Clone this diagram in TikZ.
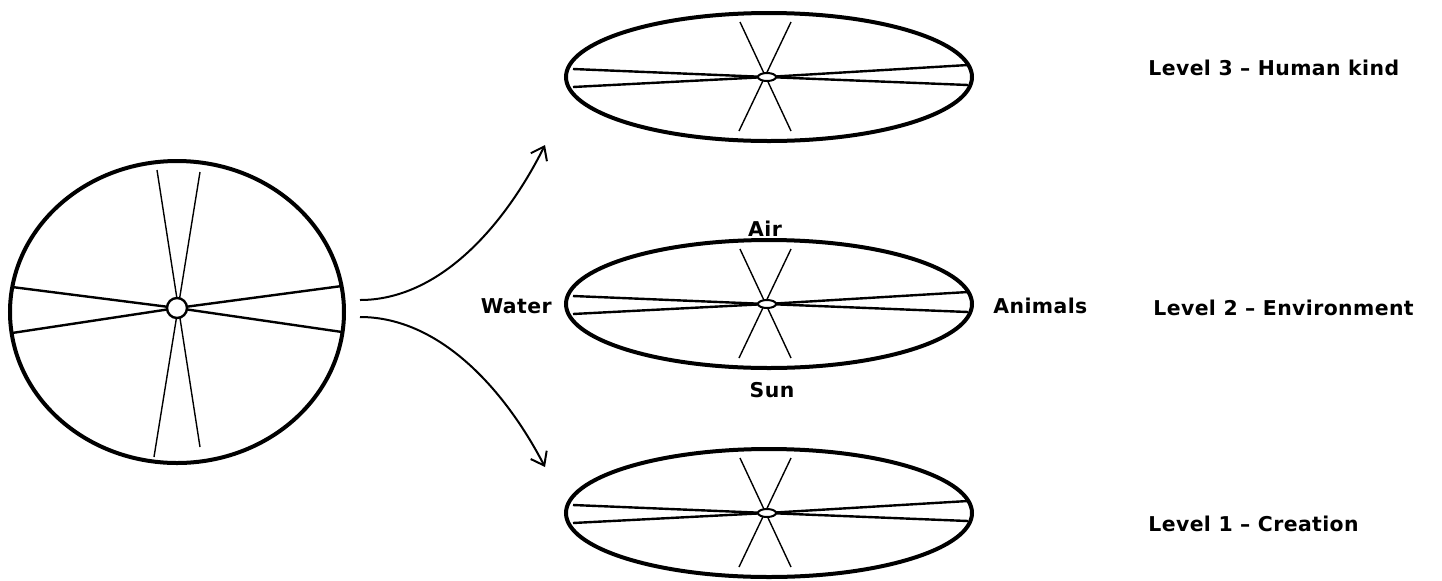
\documentclass[tikz,border=0pt]{standalone}
\usepackage{fontspec}
\setmainfont{DejaVu Sans}[LetterSpace=2]
\usetikzlibrary{arrows.meta,shapes.geometric,calc}

\begin{document}
\begin{tikzpicture}[
  x=0.5pt, y=-0.5pt,
  wheel/.style={ellipse, draw, line width=2pt, minimum width=203pt, minimum height=64pt, inner sep=0pt},
  globe/.style={ellipse, draw, line width=2pt, minimum width=167pt, minimum height=151pt, inner sep=0pt},
  hub/.style={ellipse, draw, fill=white, line width=1pt, minimum width=9pt, minimum height=4pt, inner sep=0pt},
  bighub/.style={circle, draw, fill=white, line width=1.2pt, minimum size=10pt, inner sep=0pt},
  spoke/.style={line width=1.2pt},
  thinspoke/.style={line width=0.7pt},
  label/.style={font=\bfseries\fontsize{10.2}{12}\selectfont, inner sep=0pt},
  flow/.style={line width=1pt, -{Straight Barb[length=6pt, width=9pt]}},
]
  \useasboundingbox (0,0) rectangle (1442,580);

  % the whole world, seen from above
  \node[globe] (world) at (177,312) {};
  \coordinate (wc) at (177,308);
  \draw[spoke] (wc) -- (12,287);
  \draw[spoke] (wc) -- (12,333);
  \draw[spoke] (wc) -- (342,286);
  \draw[spoke] (wc) -- (342,332);
  \draw[thinspoke] (157,170) -- (200,447);
  \draw[thinspoke] (200,172) -- (154,457);
  \node[bighub] (worldhub) at (wc) {};

  % the three levels
  \foreach \lvl/\y in {three/77, two/304, one/513} {
    \node[wheel] (\lvl) at (769,\y) {};
    \coordinate (\lvl c) at (767,\y);
    \draw[spoke] (\lvl c) -- ($(\lvl c)+(-194,-8)$);
    \draw[spoke] (\lvl c) -- ($(\lvl c)+(-194,10)$);
    \draw[spoke] (\lvl c) -- ($(\lvl c)+(201,-12)$);
    \draw[spoke] (\lvl c) -- ($(\lvl c)+(201,8)$);
    \draw[thinspoke] ($(\lvl c)+(-27,-55)$) -- ($(\lvl c)+(24,54)$);
    \draw[thinspoke] ($(\lvl c)+(24,-55)$) -- ($(\lvl c)+(-28,54)$);
    \node[hub] (\lvl hub) at (\lvl c) {};
  }

  % labels round level 2
  \node[label] (air) at (765,229) {Air};
  \node[label] (sun) at (772,390) {Sun};
  \node[label, anchor=east] (water) at (552,306) {Water};
  \node[label, anchor=west] (animals) at (993,306) {Animals};

  \node[label, anchor=west] (l3) at (1148,68) {Level 3 -- Human kind};
  \node[label, anchor=west] (l2) at (1153,308) {Level 2 -- Environment};
  \node[label, anchor=west] (l1) at (1148,524) {Level 1 -- Creation};

  % arrows from the world to the levels
  \coordinate (up0) at (360,300);
  \coordinate (up1) at (545,145);
  \coordinate (dn0) at (360,317);
  \coordinate (dn1) at (545,467);
  \draw[flow] (up0) .. controls (440,300) and (505,225) .. (up1);
  \draw[flow] (dn0) .. controls (440,317) and (505,390) .. (dn1);
\end{tikzpicture}
\end{document}
